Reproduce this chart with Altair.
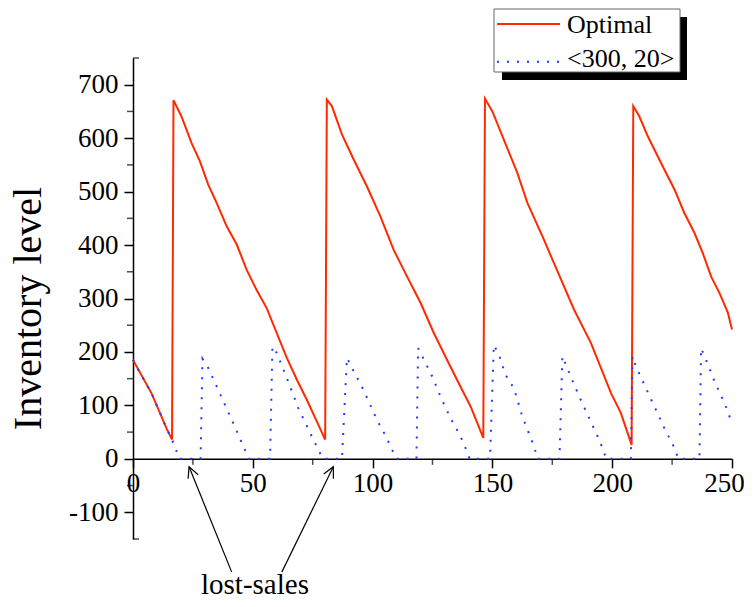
import math
import altair as alt
import pandas as pd

# ---------------- data ----------------
series_names = ["Optimal", "<300, 20>"]

opt_t = [0, 7.7, 14.0, 16.3, 16.9, 20.2, 24.4, 27.9, 31.4, 34.9, 39.1, 43.3, 47.4,
         51.6, 55.8, 60.0, 64.2, 68.4, 72.6, 76.7, 80.2, 80.9, 83.0, 87.2, 92.1,
         97.6, 103.2, 108.8, 114.4, 120.0, 125.6, 131.1, 136.7, 140.9, 146.2,
         146.9, 150.0, 154.8, 160.4, 164.6, 171.5, 175.7, 184.1, 191.1, 199.5,
         203.6, 208.1, 208.8, 211.3, 214.8, 221.8, 226.0, 230.1, 234.3, 237.8,
         241.3, 244.8, 248.3, 250]
opt_v = [185, 123, 57, 36, 671, 641, 591, 557, 513, 479, 435, 401, 354,
         316, 282, 235, 189, 148, 110, 70, 36, 672, 660, 607, 560,
         510, 454, 391, 341, 292, 235, 185, 135, 98, 39,
         674, 650, 597, 535, 479, 410, 366, 279, 217, 123,
         86, 26, 660, 641, 604, 541, 504, 460, 423, 385,
         341, 310, 273, 242]

pol_t = [0, 7.7, 14.0, 16.3, 17.8, 19.5, 28.2, 29.0, 31.4, 35.6, 41.8, 46.7, 48.3,
         57.2, 58.2, 60.0, 64.2, 69.0, 74.6, 78.8, 79.5, 87.2, 89.3, 91.4, 96.2,
         101.8, 104.0, 106.0, 108.1, 110.0, 118.3, 119.0, 120.7, 124.9, 128.3,
         132.5, 136.7, 138.8, 140.5, 149.0, 150.6, 152.7, 155.5, 159.0, 162.5,
         167.4, 168.8, 178.0, 179.2, 182.7, 186.2, 190.4, 193.9, 196.0, 197.5,
         207.8, 208.5, 209.9, 214.1, 217.6, 221.8, 226.0, 227.6, 236.4, 237.1,
         239.2, 242.7, 246.9, 250]
pol_v = [185, 123, 57, 36, 18, 0, 0, 187, 170, 129, 67, 17, 0,
         0, 210, 198, 151, 95, 42, 4, 0, 0, 189, 170, 129,
         73, 55, 38, 17, 0, 0, 207, 192, 154, 117,
         76, 42, 20, 0, 0, 213, 195, 157, 132, 79,
         23, 0, 0, 192, 154, 117, 76, 42, 20, 0,
         0, 192, 173, 132, 98, 57, 20, 0, 0, 207,
         185, 145, 104, 67]

x_major = [0, 50, 100, 150, 200, 250]
x_minor = [25, 75, 125, 175, 225]
y_major = [-100, 0, 100, 200, 300, 400, 500, 600, 700]
y_minor = [-50, 50, 150, 250, 350, 450, 550, 650]
y_ends = [-150, 750]

note_text = "lost-sales"
note_t = [50.9]
note_v = [-252]
arrow_tail_t = [41.2, 62.1]
arrow_tail_v = [-212, -212]
arrow_tip_t = [23.4, 83.6]
arrow_tip_v = [-14.7, -14.7]

# ---------------- layout / style ----------------
W, H = 599, 481
XD = [0, 250]
YD = [-150, 750]
FONT = "Liberation Serif"
RED = "#ff2a00"
BLUE = "#1e3cff"
X0_OFFSET = H * (YD[1] - 0) / (YD[1] - YD[0]) - H  # x axis sits at y = 0

xs = alt.Scale(domain=XD, nice=False, zero=False)
ys = alt.Scale(domain=YD, nice=False, zero=False)

px_per_t = W / (XD[1] - XD[0])
px_per_v = H / (YD[1] - YD[0])


def angle_of(t0, v0, t1, v1):
    dx = (t1 - t0) * px_per_t
    dy = -(v1 - v0) * px_per_v
    a = math.degrees(math.atan2(dx, -dy))
    return a % 360


opt_df = pd.DataFrame({"t": opt_t, "v": opt_v})
pol_df = pd.DataFrame({"t": pol_t, "v": pol_v})

LABEL_EXPR = "datum.value < 0 ? '-' + abs(datum.value) : '' + datum.value"
x_axis = alt.Axis(values=x_major, offset=X0_OFFSET, tickSize=9, labelPadding=3,
                  title=None, labelFontSize=27, labelFont=FONT, labelFlush=False,
                  labelOverlap=False, domainWidth=1.5, tickWidth=1.5,
                  labelOffset={"condition": {"test": "datum.value == 250", "value": -8},
                               "value": 0},
                  labelExpr=LABEL_EXPR)
y_axis = alt.Axis(values=y_major, tickSize=9, labelPadding=6, title="Inventory level",
                  labelFontSize=27, labelFont=FONT, labelFlush=False, labelOverlap=False,
                  domainWidth=1.5, tickWidth=1.5, titleFont=FONT, titleFontSize=40,
                  titleFontWeight="normal", titleAngle=270, titleX=-93, titleY=250,
                  titleAlign="center", titleBaseline="alphabetic",
                  labelExpr=LABEL_EXPR)

X = lambda f: alt.X(f, scale=xs)
Y = lambda f: alt.Y(f, scale=ys)

red_line = alt.Chart(opt_df).mark_line(color=RED, strokeWidth=2).encode(
    x=alt.X("t:Q", scale=xs, axis=x_axis),
    y=alt.Y("v:Q", scale=ys, axis=y_axis),
    order="t:Q",
)

blue_line = alt.Chart(pol_df).mark_line(color=BLUE, strokeWidth=2, strokeDash=[2, 8]).encode(
    x=X("t:Q"), y=Y("v:Q"), order="t:Q",
)

# minor ticks
xminor_df = pd.DataFrame({"t": x_minor, "v": [0] * len(x_minor)})
xminor = alt.Chart(xminor_df).mark_tick(orient="vertical", size=6, thickness=1.5,
                                        color="black", yOffset=3).encode(
    x=X("t:Q"), y=Y("v:Q"))

yminor_df = pd.DataFrame({"t": [0] * len(y_minor), "v": y_minor})
yminor = alt.Chart(yminor_df).mark_tick(orient="horizontal", size=6, thickness=1.5,
                                        color="black", xOffset=-3).encode(
    x=X("t:Q"), y=Y("v:Q"))

yend_df = pd.DataFrame({"t": [0] * len(y_ends), "v": y_ends})
yend = alt.Chart(yend_df).mark_tick(orient="horizontal", size=6, thickness=1.5,
                                    color="black", xOffset=3).encode(
    x=X("t:Q"), y=Y("v:Q"))

# annotation
arr_df = pd.DataFrame({"t0": arrow_tail_t, "v0": arrow_tail_v,
                       "t1": arrow_tip_t, "v1": arrow_tip_v})
arr_df["ang"] = [angle_of(a, b, c, d) for a, b, c, d in
                 zip(arrow_tail_t, arrow_tail_v, arrow_tip_t, arrow_tip_v)]
shafts = alt.Chart(arr_df).mark_rule(color="black", strokeWidth=1.2).encode(
    x=X("t0:Q"), y=Y("v0:Q"), x2="t1:Q", y2="v1:Q")
heads = alt.Chart(arr_df).mark_point(shape="M-0.45,0.9L0,0L0.45,0.9", size=576,
                                     filled=False, color="black", strokeWidth=1.2,
                                     opacity=1).encode(
    x=X("t1:Q"), y=Y("v1:Q"), angle=alt.Angle("ang:Q", scale=None))
note_df = pd.DataFrame({"t": note_t, "v": note_v, "label": [note_text]})
note = alt.Chart(note_df).mark_text(font=FONT, fontSize=29, baseline="alphabetic",
                                    align="center", color="black").encode(
    x=X("t:Q"), y=Y("v:Q"), text="label:N")

# legend (drawn by hand to get the drop shadow)
one = pd.DataFrame({"k": [0]})
leg_shadow = alt.Chart(one).mark_rect(color="black").encode(
    x=alt.value(369), x2=alt.value(554), y=alt.value(-41), y2=alt.value(22))
leg_box = alt.Chart(one).mark_rect(fill="white", stroke="#666666", strokeWidth=1).encode(
    x=alt.value(361), x2=alt.value(547), y=alt.value(-49), y2=alt.value(14))
leg_red = alt.Chart(one).mark_rule(color=RED, strokeWidth=2).encode(
    x=alt.value(364), x2=alt.value(427), y=alt.value(-34))
leg_blue = alt.Chart(one).mark_rule(color=BLUE, strokeWidth=2, strokeDash=[2, 8]).encode(
    x=alt.value(364), x2=alt.value(427), y=alt.value(3.7))
leg_t1 = alt.Chart(one).mark_text(text=series_names[0], font=FONT, fontSize=26,
                                  align="left", baseline="alphabetic", color="black").encode(
    x=alt.value(434), y=alt.value(-25.5))
leg_t2 = alt.Chart(one).mark_text(text=series_names[1], font=FONT, fontSize=26,
                                  align="left", baseline="alphabetic", color="black").encode(
    x=alt.value(434), y=alt.value(8.7))

chart = alt.layer(
    red_line, blue_line, xminor, yminor, yend, shafts, heads, note,
    leg_shadow, leg_box, leg_red, leg_blue, leg_t1, leg_t2,
).properties(
    width=W, height=H,
    padding={"left": 125, "top": 50, "right": 12, "bottom": 56},
    autosize=alt.AutoSizeParams(type="none"),
).configure_view(stroke=None).configure_axis(
    grid=False, domainColor="black", tickColor="black", labelColor="black",
    titleColor="black",
)

chart.save("out.html", embed_options={"renderer": "svg", "actions": False})
